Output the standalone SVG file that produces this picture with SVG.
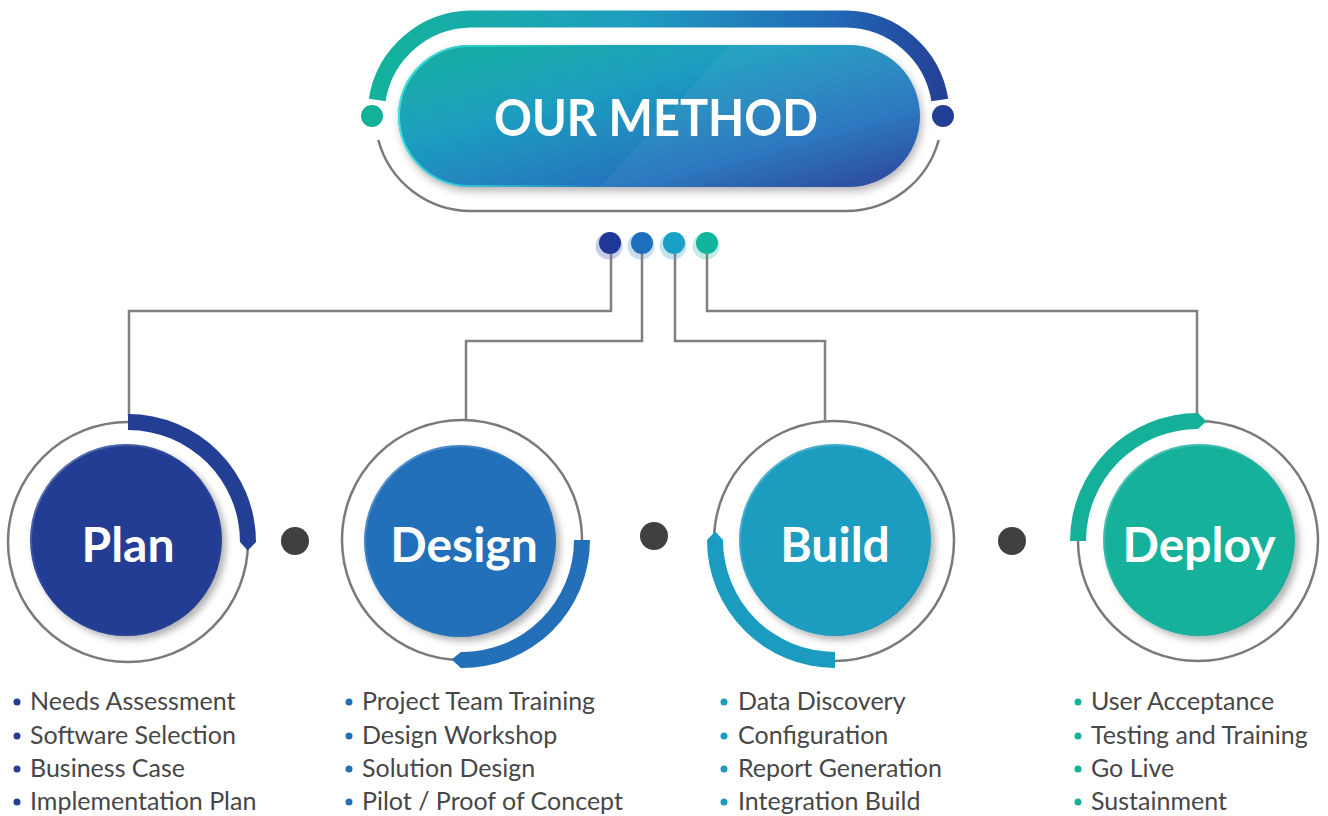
<svg xmlns="http://www.w3.org/2000/svg" width="1328" height="816" viewBox="0 0 1328 816">
  <style>
    .ring{fill:none;stroke:#7a7a7a;stroke-width:2.5}
    .conn{fill:none;stroke:#808080;stroke-width:2.5}
    .label{font-family:Lato,"Open Sans","Liberation Sans",sans-serif;font-weight:700;font-size:48px;fill:#ffffff;text-anchor:middle}
    .item{font-family:Lato,"Open Sans","Liberation Sans",sans-serif;font-size:25px;font-weight:400;fill:#474747}
    .sep{fill:#404040}
  </style>
  <defs>
    <linearGradient id="bandGrad" x1="366" y1="0" x2="950" y2="0" gradientUnits="userSpaceOnUse">
      <stop offset="0" stop-color="#13b39a"/>
      <stop offset="0.45" stop-color="#1e9ec0"/>
      <stop offset="0.8" stop-color="#2168b6"/>
      <stop offset="1" stop-color="#233f95"/>
    </linearGradient>
    <linearGradient id="pillGrad" x1="0" y1="0" x2="1" y2="1">
      <stop offset="0" stop-color="#15b09c"/>
      <stop offset="0.35" stop-color="#1e9ec0"/>
      <stop offset="0.72" stop-color="#2371bd"/>
      <stop offset="1" stop-color="#213a92"/>
    </linearGradient>
    <linearGradient id="pillEdge" x1="0" y1="0" x2="1" y2="0">
      <stop offset="0" stop-color="#3fe0dc"/>
      <stop offset="0.4" stop-color="#3fe0dc" stop-opacity="0"/>
      <stop offset="1" stop-color="#3fe0dc" stop-opacity="0"/>
    </linearGradient>
    <linearGradient id="rimGrad" x1="0" y1="0" x2="1" y2="1">
      <stop offset="0" stop-color="#ffffff" stop-opacity="0.35"/>
      <stop offset="0.45" stop-color="#ffffff" stop-opacity="0"/>
      <stop offset="1" stop-color="#000000" stop-opacity="0.12"/>
    </linearGradient>
    <clipPath id="pillClip">
      <rect x="398" y="45" width="522" height="142" rx="71"/>
    </clipPath>
    <filter id="shadow" x="-20%" y="-20%" width="150%" height="150%">
      <feDropShadow dx="4" dy="4" stdDeviation="3.5" flood-color="#000000" flood-opacity="0.3"/>
    </filter>
    <filter id="pillShadow" x="-10%" y="-20%" width="120%" height="150%">
      <feDropShadow dx="2" dy="4" stdDeviation="4" flood-color="#000000" flood-opacity="0.3"/>
    </filter>
  </defs>

  <g id="header">
    <path d="M377.2,100 A96,96 0 0 1 471,19 L846,19 A96,96 0 0 1 939.8,100" fill="none" stroke="url(#bandGrad)" stroke-width="17"/>
    <path d="M378.3,140 A96,96 0 0 0 471,211 L846,211 A96,96 0 0 0 938.7,140" class="ring"/>
    <circle cx="372" cy="116" r="11" fill="#15b09a"/>
    <circle cx="943" cy="116" r="11" fill="#233f95"/>
    <g filter="url(#pillShadow)">
      <rect x="398" y="45" width="522" height="142" rx="71" fill="url(#pillGrad)"/>
    </g>
    <polygon points="730,45 920,45 920,187 600,187" fill="#ffffff" fill-opacity="0.05" clip-path="url(#pillClip)"/>
    <rect x="399" y="46" width="520" height="140" rx="70" fill="none" stroke="url(#pillEdge)" stroke-width="2"/>
    <text x="656" y="136" font-family="Lato,'Open Sans','Liberation Sans',sans-serif" font-weight="700" font-size="52" fill="#ffffff" text-anchor="middle" textLength="324" lengthAdjust="spacingAndGlyphs">OUR METHOD</text>
  </g>

  <g id="hub-dots">
    <circle cx="609" cy="246" r="13.5" fill="#c6cde8"/>
    <circle cx="641" cy="246" r="13.5" fill="#c9dcf0"/>
    <circle cx="673" cy="246" r="13.5" fill="#c2e6ef"/>
    <circle cx="706" cy="246" r="13.5" fill="#c2ede5"/>
    <circle cx="610" cy="243" r="11" fill="#1f3796"/>
    <circle cx="642" cy="243" r="11" fill="#1f6fbf"/>
    <circle cx="674" cy="243" r="11" fill="#18a0c6"/>
    <circle cx="707" cy="243" r="11" fill="#10b59b"/>
  </g>

  <g id="connectors">
    <polyline class="conn" points="611,254 611,311 129,311 129,416"/>
    <polyline class="conn" points="642,254 642,341 466,341 466,420"/>
    <polyline class="conn" points="675,254 675,341 825,341 825,420"/>
    <polyline class="conn" points="707,254 707,311 1197,311 1197,416"/>
  </g>

  <g id="separators">
    <circle class="sep" cx="295" cy="541" r="14"/>
    <circle class="sep" cx="654" cy="536" r="14"/>
    <circle class="sep" cx="1012" cy="541" r="14"/>
  </g>

  <g id="node-plan">
    <circle class="ring" cx="128" cy="542" r="120"/>
    <path d="M128,414 A128,128 0 0 1 256,542 L247.7,550.4 L240,542 A112,112 0 0 0 128,430 Z" fill="#233f95"/>
    <circle cx="126" cy="540" r="96" fill="#233e93" filter="url(#shadow)"/>
    <circle cx="126" cy="540" r="95" fill="none" stroke="url(#rimGrad)" stroke-width="2"/>
    <text class="label" x="128" y="562">Plan</text>
    <circle cx="17" cy="702" r="3.5" fill="#233e93"/>
    <text class="item" x="30" y="710">Needs Assessment</text>
    <circle cx="17" cy="736" r="3.5" fill="#233e93"/>
    <text class="item" x="30" y="744">Software Selection</text>
    <circle cx="17" cy="769" r="3.5" fill="#233e93"/>
    <text class="item" x="30" y="777">Business Case</text>
    <circle cx="17" cy="802" r="3.5" fill="#233e93"/>
    <text class="item" x="30" y="810">Implementation Plan</text>
  </g>

  <g id="node-design">
    <circle class="ring" cx="462" cy="540" r="120"/>
    <path d="M590,540 A128,128 0 0 1 460.9,668 L451.5,659.5 L461,652 A112,112 0 0 0 574,540 Z" fill="#236fb8"/>
    <circle cx="460" cy="541" r="96" fill="#2370b9" filter="url(#shadow)"/>
    <circle cx="460" cy="541" r="95" fill="none" stroke="url(#rimGrad)" stroke-width="2"/>
    <text class="label" x="464" y="562">Design</text>
    <circle cx="349" cy="702" r="3.5" fill="#2370b9"/>
    <text class="item" x="362" y="710">Project Team Training</text>
    <circle cx="349" cy="736" r="3.5" fill="#2370b9"/>
    <text class="item" x="362" y="744">Design Workshop</text>
    <circle cx="349" cy="769" r="3.5" fill="#2370b9"/>
    <text class="item" x="362" y="777">Solution Design</text>
    <circle cx="349" cy="802" r="3.5" fill="#2370b9"/>
    <text class="item" x="362" y="810">Pilot / Proof of Concept</text>
  </g>

  <g id="node-build">
    <circle class="ring" cx="834" cy="541" r="120"/>
    <path d="M835,668 A128,128 0 0 1 707,540 L715.3,531.6 L723,540 A112,112 0 0 0 835,652 Z" fill="#1b9bc0"/>
    <circle cx="835" cy="540" r="96" fill="#1c9cbf" filter="url(#shadow)"/>
    <circle cx="835" cy="540" r="95" fill="none" stroke="url(#rimGrad)" stroke-width="2"/>
    <text class="label" x="835" y="562">Build</text>
    <circle cx="724" cy="702" r="3.5" fill="#1c9cbf"/>
    <text class="item" x="738" y="710">Data Discovery</text>
    <circle cx="724" cy="736" r="3.5" fill="#1c9cbf"/>
    <text class="item" x="738" y="744">Configuration</text>
    <circle cx="724" cy="769" r="3.5" fill="#1c9cbf"/>
    <text class="item" x="738" y="777">Report Generation</text>
    <circle cx="724" cy="802" r="3.5" fill="#1c9cbf"/>
    <text class="item" x="738" y="810">Integration Build</text>
  </g>

  <g id="node-deploy">
    <circle class="ring" cx="1198" cy="541" r="120"/>
    <path d="M1070,541 A128,128 0 0 1 1198,413 L1206.4,421.3 L1198,429 A112,112 0 0 0 1086,541 Z" fill="#14b09a"/>
    <circle cx="1199" cy="540" r="96" fill="#15b19b" filter="url(#shadow)"/>
    <circle cx="1199" cy="540" r="95" fill="none" stroke="url(#rimGrad)" stroke-width="2"/>
    <text class="label" x="1199" y="562">Deploy</text>
    <circle cx="1078" cy="702" r="3.5" fill="#15b19b"/>
    <text class="item" x="1091" y="710">User Acceptance</text>
    <circle cx="1078" cy="736" r="3.5" fill="#15b19b"/>
    <text class="item" x="1091" y="744">Testing and Training</text>
    <circle cx="1078" cy="769" r="3.5" fill="#15b19b"/>
    <text class="item" x="1091" y="777">Go Live</text>
    <circle cx="1078" cy="802" r="3.5" fill="#15b19b"/>
    <text class="item" x="1091" y="810">Sustainment</text>
  </g>
</svg>
